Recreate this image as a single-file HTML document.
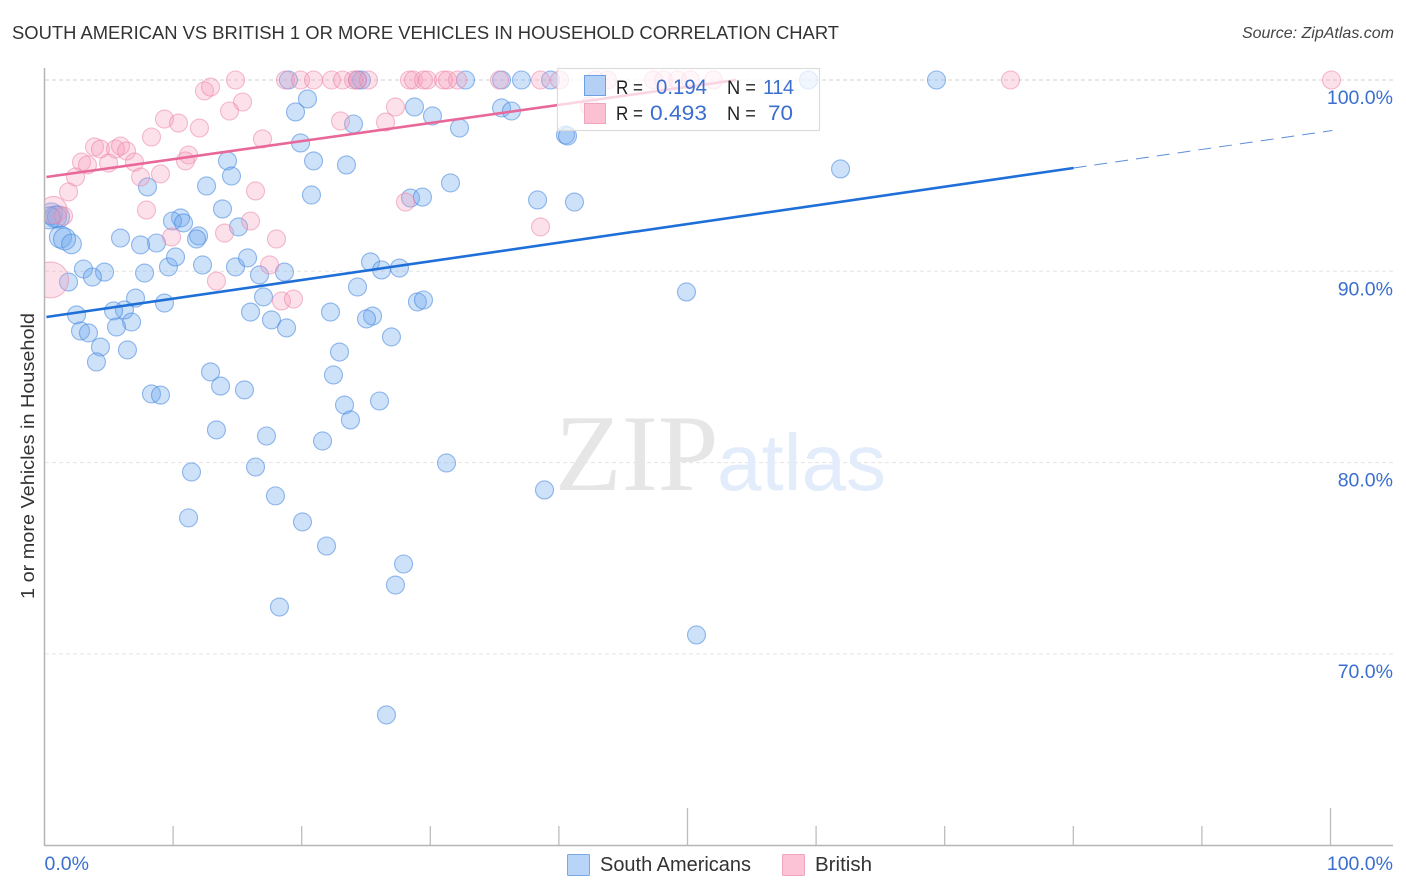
<!DOCTYPE html>
<html lang="en">
<head>
<meta charset="utf-8">
<title>South American vs British 1 or More Vehicles in Household Correlation Chart</title>
<style>
html,body{margin:0;padding:0;background:#fff;width:1406px;height:892px;overflow:hidden}
svg{display:block;font-family:"Liberation Sans",sans-serif}
</style>
</head>
<body>
<svg id="chart" width="1406" height="892" viewBox="0 0 1406 892" xmlns="http://www.w3.org/2000/svg">
  <defs>
    <clipPath id="plot-clip"><rect x="44" y="60" width="1352" height="786"/></clipPath>
  </defs>
  <rect width="1406" height="892" fill="#fff"/>
  <text x="12" y="39" font-size="18.5" fill="#333" textLength="827" lengthAdjust="spacingAndGlyphs">SOUTH AMERICAN VS BRITISH 1 OR MORE VEHICLES IN HOUSEHOLD CORRELATION CHART</text>
  <text x="1394" y="38" font-size="16" font-style="italic" fill="#444" text-anchor="end">Source: ZipAtlas.com</text>
  <g id="grid"></g>
  <g>
    <text x="555" y="490" font-family="'Liberation Serif',serif" font-size="109" fill="#e6e6e6">ZIP</text>
    <text x="717" y="490" font-size="80" fill="#e2ecfb">atlas</text>
  </g>
  <g id="south-american-points" clip-path="url(#plot-clip)"></g>
  <g id="british-points" clip-path="url(#plot-clip)"></g>
  <g id="trends"></g>
  <g id="axes">
    <line x1="44.5" y1="68" x2="44.5" y2="845.5" stroke="#b5b5b5" stroke-width="1.5"/>
    <line x1="44" y1="845.5" x2="1393" y2="845.5" stroke="#b5b5b5" stroke-width="1.5"/>
  </g>
  <text transform="translate(34,456) rotate(-90)" font-size="18.5" fill="#333" text-anchor="middle" textLength="286" lengthAdjust="spacingAndGlyphs">1 or more Vehicles in Household</text>
  <g>
    <rect x="557.5" y="68.5" width="262" height="62" fill="#fff" fill-opacity="0.72" stroke="#dcdcdc" stroke-width="1.2"/>
    <rect x="584.5" y="75.5" width="21" height="20" fill="#b5d0f5" stroke="#6d9fe6" stroke-width="1"/>
    <rect x="584.5" y="103.5" width="21" height="20" fill="#fbc1d3" stroke="#f0a6bd" stroke-width="1"/>
    <text x="616" y="94" font-size="19" fill="#222" textLength="27" lengthAdjust="spacingAndGlyphs">R =</text>
    <text x="656" y="94" font-size="21" fill="#3a6fd0" textLength="51" lengthAdjust="spacingAndGlyphs">0.194</text>
    <text x="727" y="94" font-size="19" fill="#222" textLength="29" lengthAdjust="spacingAndGlyphs">N =</text>
    <text x="763" y="94" font-size="20" fill="#3a6fd0" textLength="31" lengthAdjust="spacing">114</text>
    <text x="616" y="120" font-size="19" fill="#222" textLength="27" lengthAdjust="spacingAndGlyphs">R =</text>
    <text x="650" y="120" font-size="21" fill="#3a6fd0" textLength="57" lengthAdjust="spacingAndGlyphs">0.493</text>
    <text x="727" y="120" font-size="19" fill="#222" textLength="29" lengthAdjust="spacingAndGlyphs">N =</text>
    <text x="768" y="120" font-size="21" fill="#3a6fd0" textLength="25" lengthAdjust="spacingAndGlyphs">70</text>
  </g>
  <g>
    <g>
      <rect x="567.5" y="854.5" width="22" height="21" rx="1" fill="#b8d4f8" stroke="#7ba6e4" stroke-width="1"/>
      <text x="600" y="871" font-size="20" fill="#333" textLength="151" lengthAdjust="spacingAndGlyphs">South Americans</text>
    </g>
    <g>
      <rect x="782.5" y="854.5" width="22" height="21" rx="1" fill="#fcc3d6" stroke="#f0a5bd" stroke-width="1"/>
      <text x="815" y="871" font-size="20" fill="#333" textLength="57" lengthAdjust="spacingAndGlyphs">British</text>
    </g>
  </g>
</svg>
<script>
const yTickValues = [100, 90, 80, 70];
const yTickLabels = ["100.0%", "90.0%", "80.0%", "70.0%"];
const xTickValues = [10, 20, 30, 40, 50, 60, 70, 80, 90, 100];
const xEndValues = [0, 100];
const xEndLabels = ["0.0%", "100.0%"];

const southAmericanX = [0.54,0.86,1.09,0.39,1.24,1.56,2.10,69.36,37.09,32.74,35.54,39.35,59.41,18.97,24.65,24.34,20.45,19.52,28.77,30.17,35.54,36.31,32.27,24.03,19.91,40.51,40.67,61.90,14.23,20.92,23.48,14.54,8.01,12.60,20.76,31.57,28.46,29.39,38.34,41.21,13.84,10.58,9.95,10.81,15.09,11.98,11.82,5.91,8.71,7.47,3.03,4.67,3.73,1.87,7.78,9.64,10.19,12.29,14.85,15.79,16.72,18.66,25.35,26.21,27.60,49.92,24.34,17.03,7.08,9.33,6.22,5.37,16.02,22.24,29.00,29.47,25.51,25.04,2.49,6.77,5.60,17.65,18.82,2.80,3.42,26.98,4.35,6.45,4.04,22.94,22.47,12.91,13.69,8.32,9.02,15.55,26.05,23.33,23.79,13.37,17.26,21.62,31.26,11.43,16.41,38.88,17.96,11.20,20.06,21.93,27.92,27.29,18.27,50.70,26.59];
const southAmericanY = [93.00,92.84,92.84,92.79,91.79,91.69,91.43,100,100,100,100,100,100,100,100,100,99.01,98.33,98.59,98.12,98.54,98.38,97.49,97.70,96.71,97.13,97.07,95.35,95.77,95.77,95.56,94.98,94.41,94.46,93.99,94.62,93.83,93.88,93.73,93.62,93.26,92.79,92.63,92.53,92.32,91.85,91.69,91.74,91.48,91.38,90.12,89.96,89.70,89.44,89.91,90.23,90.75,90.33,90.23,90.70,89.81,89.96,90.49,90.07,90.17,88.92,89.18,88.66,88.60,88.34,87.98,87.93,87.87,87.87,88.40,88.50,87.66,87.51,87.72,87.35,87.09,87.46,87.04,86.88,86.78,86.57,86.04,85.89,85.26,85.78,84.58,84.74,84.00,83.59,83.53,83.80,83.22,83.01,82.23,81.71,81.39,81.13,79.98,79.51,79.77,78.57,78.26,77.11,76.90,75.64,74.70,73.60,72.45,70.99,66.81];
const southAmericanWeight = [1.5,1.5,1.5,1.5,1.5,1.5,1.2];

const britishX = [0.47,0.70,100.08,75.12,14.85,18.74,19.91,20.92,22.32,23.17,24.03,24.34,25.19,28.38,28.69,29.47,29.78,31.03,31.34,32.12,35.38,38.57,40.05,42.85,43.78,47.36,48.13,49.22,50.23,52.02,9.33,10.42,12.05,8.32,15.40,14.39,12.44,12.91,16.95,3.89,4.35,5.52,5.91,6.38,2.88,3.34,4.98,7.00,11.20,10.96,2.41,7.47,9.02,1.87,16.41,7.93,1.48,9.88,14.00,16.02,18.04,17.50,13.37,18.43,19.36,28.07,38.57,23.02,26.52,27.29,42.38];
const britishY = [89.55,93.20,100,100,100,100,100,100,100,100,100,100,100,100,100,100,100,100,100,100,100,100,100,100,100,100,100,100,100,100,97.96,97.75,97.49,97.02,98.85,98.38,99.43,99.63,96.92,96.50,96.39,96.39,96.55,96.29,95.71,95.56,95.66,95.71,96.08,95.77,94.93,94.93,95.09,94.15,94.20,93.20,92.89,91.79,92.00,92.63,91.69,90.33,89.49,88.45,88.55,93.62,92.32,97.86,97.80,98.59,98.64];
const britishWeight = [4,2.3];

const southAmericanTrendX = [0.15, 80.02];
const southAmericanTrendY = [87.61, 95.40];
const southAmericanForecastX = [80.02, 100.15];
const southAmericanForecastY = [95.40, 97.36];
const britishTrendX = [0.15, 53.8];
const britishTrendY = [94.93, 100];

const SVG_NS = "http://www.w3.org/2000/svg";
function xScale(v){ return 44.5 + v * 12.86; }
function yScale(v){ return 80 + (100 - v) * 19.13; }

const gridGroup = document.getElementById("grid");
const axesGroup = document.getElementById("axes");

yTickValues.forEach(function(v, i){
  const gl = document.createElementNS(SVG_NS, "line");
  gl.setAttribute("x1", 45);
  gl.setAttribute("x2", 1393);
  gl.setAttribute("y1", yScale(v));
  gl.setAttribute("y2", yScale(v));
  gl.setAttribute("stroke", i === 0 ? "#d2d2d2" : "#e4e4e4");
  gl.setAttribute("stroke-width", "1");
  gl.setAttribute("stroke-dasharray", "4 3");
  
  
  gridGroup.appendChild(gl);

  const tl = document.createElementNS(SVG_NS, "text");
  tl.setAttribute("x", 1393);
  tl.setAttribute("y", yScale(v) + 24);
  tl.setAttribute("text-anchor", "end");
  tl.setAttribute("font-size", "19.5");
  tl.setAttribute("fill", "#3a6fd0");
  
  
  tl.textContent = yTickLabels[i];
  axesGroup.appendChild(tl);
});

xTickValues.forEach(function(v){
  const t = document.createElementNS(SVG_NS, "line");
  t.setAttribute("x1", xScale(v));
  t.setAttribute("x2", xScale(v));
  t.setAttribute("y1", v % 50 === 0 ? 808 : 826);
  t.setAttribute("y2", 845);
  t.setAttribute("stroke", "#bdbdbd");
  t.setAttribute("stroke-width", "1.3");
  
  
  axesGroup.appendChild(t);
});

xEndValues.forEach(function(v, i){
  const l = document.createElementNS(SVG_NS, "text");
  l.setAttribute("x", i === 0 ? xScale(v) : 1393);
  l.setAttribute("y", 870);
  l.setAttribute("text-anchor", i === 0 ? "start" : "end");
  l.setAttribute("font-size", "19.5");
  l.setAttribute("fill", "#3a6fd0");
  
  
  l.textContent = xEndLabels[i];
  axesGroup.appendChild(l);
});

function drawPoints(groupId, xs, ys, weights, fill, stroke, fillOpacity, name){
  const g = document.getElementById(groupId);
  xs.forEach(function(v, i){
    const c = document.createElementNS(SVG_NS, "circle");
    c.setAttribute("cx", xScale(v));
    c.setAttribute("cy", yScale(ys[i]));
    c.setAttribute("r", 9 * Math.sqrt(weights[i] || 1));
    c.setAttribute("fill", fill);
    c.setAttribute("fill-opacity", fillOpacity);
    c.setAttribute("stroke", stroke);
    c.setAttribute("stroke-opacity", "0.55");
    c.setAttribute("stroke-width", "1.1");
    
    
    g.appendChild(c);
  });
}
drawPoints("south-american-points", southAmericanX, southAmericanY, southAmericanWeight, "#6ba6ee", "#3f84dc", 0.34, "south-american-point");
drawPoints("british-points", britishX, britishY, britishWeight, "#f79dba", "#ea85a8", 0.3, "british-point");

function drawTrend(xs, ys, color, width, dash, name){
  const l = document.createElementNS(SVG_NS, "line");
  l.setAttribute("x1", xScale(xs[0]));
  l.setAttribute("y1", yScale(ys[0]));
  l.setAttribute("x2", xScale(xs[1]));
  l.setAttribute("y2", yScale(ys[1]));
  l.setAttribute("stroke", color);
  l.setAttribute("stroke-width", width);
  if (dash) l.setAttribute("stroke-dasharray", dash);
  
  
  document.getElementById("trends").appendChild(l);
}
drawTrend(southAmericanTrendX, southAmericanTrendY, "#1f6fd8", 2.6, null, "south-american-trend-line");
drawTrend(southAmericanForecastX, southAmericanForecastY, "#5c8fd8", 1, "13 8", "south-american-trend-forecast");
drawTrend(britishTrendX, britishTrendY, "#e8689a", 2.6, null, "british-trend-line");
</script>
</body>
</html>
